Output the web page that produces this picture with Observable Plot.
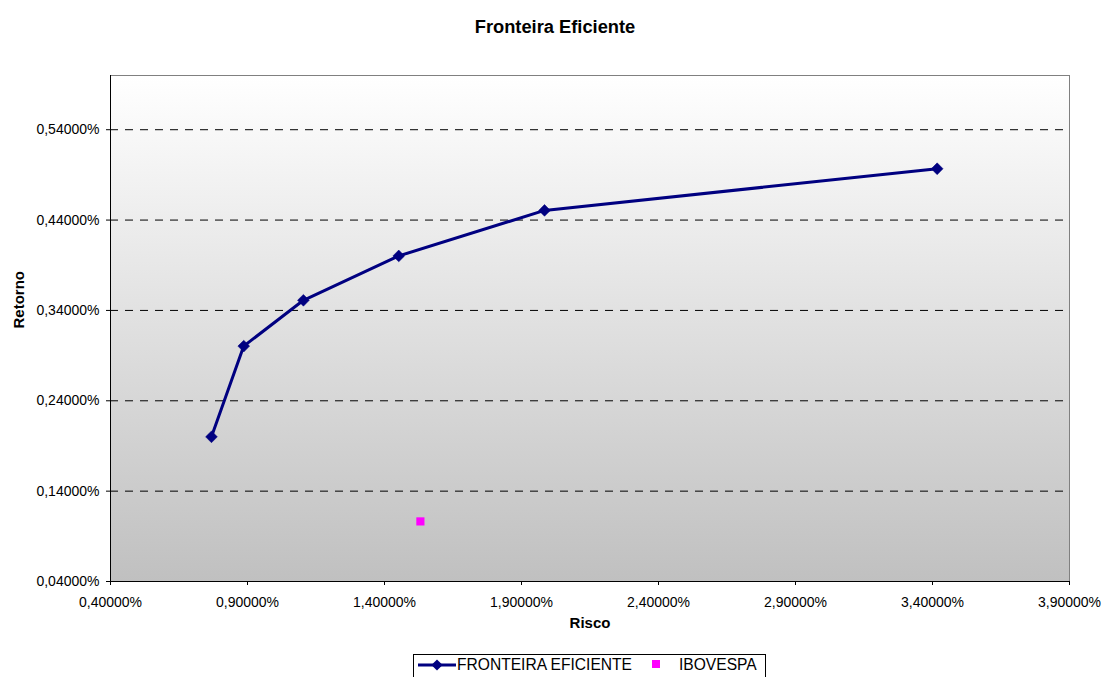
<!DOCTYPE html>
<html>
<head>
<meta charset="utf-8">
<script src="https://cdn.jsdelivr.net/npm/d3@7"></script>
<script src="https://cdn.jsdelivr.net/npm/@observablehq/plot@0.6"></script>
<style>
  body { margin: 0; background: #fff; font-family: Arial, "Liberation Sans", sans-serif; }
  #chart { position: relative; width: 1103px; height: 677px; overflow: hidden; }
  #legend { position: absolute; left: 413px; top: 654px; width: 351px; height: 26px;
            border: 1px solid #000; background: #fff; }
</style>
</head>
<body>
<div id="chart"></div>
<script>
// Efficient frontier: risk (std. dev., %) and return (%) for each portfolio
const frontierRisk   = [0.7685, 0.8863, 1.104, 1.452, 1.984, 3.417];
const frontierReturn = [0.2001, 0.3005, 0.3512, 0.4003, 0.4507, 0.4968];

// Market index
const ibovRisk   = [1.531];
const ibovReturn = [0.1065];

// Axis ticks (percent)
const xTicks = [0.4, 0.9, 1.4, 1.9, 2.4, 2.9, 3.4, 3.9];
const yTicks = [0.04, 0.14, 0.24, 0.34, 0.44, 0.54];

const seriesNames = ["FRONTEIRA EFICIENTE", "IBOVESPA"];
const seriesColors = ["#000080", "#ff00ff"];

const frontier = frontierRisk.map((r, i) => ({risk: r, ret: frontierReturn[i]}));
const ibov = ibovRisk.map((r, i) => ({risk: r, ret: ibovReturn[i]}));

// Brazilian-style percent label: 0,54000%
const pct = v => d3.format(".5f")(v).replace(".", ",") + "%";

const font = 'Arial, "Liberation Sans", sans-serif';

const chart = Plot.plot({
  width: 1103,
  height: 645,
  marginTop: 75,
  marginLeft: 110,
  marginRight: 34,
  marginBottom: 64,
  style: {fontFamily: font, fontSize: "14px", color: "#000", background: "transparent"},
  x: {domain: [0.4, 3.9]},
  y: {domain: [0.04, 0.60]},
  marks: [
    Plot.frame({fill: "url(#plotBg)", stroke: "#808080"}),
    Plot.gridY(yTicks, {stroke: "#000", strokeOpacity: 1, strokeDasharray: "8,7"}),
    Plot.ruleX([0.4], {stroke: "#000"}),
    Plot.ruleY([0.04], {stroke: "#000"}),
    Plot.axisX(xTicks, {tickSize: 4, tickPadding: 12, tickFormat: pct, label: null, fontSize: 14}),
    Plot.axisY(yTicks, {tickSize: 4, tickPadding: 7, tickFormat: pct, label: null, fontSize: 14}),
    Plot.line(frontier, {x: "risk", y: "ret", stroke: seriesColors[0], strokeWidth: 3}),
    Plot.dot(frontier, {x: "risk", y: "ret", symbol: "diamond2", r: 5.3, fill: seriesColors[0], stroke: seriesColors[0], strokeWidth: 0.5}),
    Plot.dot(ibov, {x: "risk", y: "ret", symbol: "square", r: 4.6, fill: seriesColors[1]}),
    Plot.text(["Fronteira Eficiente"], {frameAnchor: "top", dy: -56, dx: -35, fontWeight: "bold", fontSize: 18.3}),
    Plot.text(["Risco"], {frameAnchor: "bottom", dy: 46, fontWeight: "bold", fontSize: 15}),
    Plot.text(["Retorno"], {frameAnchor: "left", dx: -91, rotate: -90, fontWeight: "bold", fontSize: 15})
  ]
});

// Vertical white-to-grey background gradient for the plotting area
const defs = d3.select(chart).insert("defs", ":first-child");
const grad = defs.append("linearGradient")
  .attr("id", "plotBg").attr("x1", 0).attr("y1", 0).attr("x2", 0).attr("y2", 1);
grad.append("stop").attr("offset", "0%").attr("stop-color", "#ffffff");
grad.append("stop").attr("offset", "100%").attr("stop-color", "#c0c0c0");

const container = document.getElementById("chart");
container.appendChild(chart);

// Legend box below the chart
const legend = d3.select(container).append("div").attr("id", "legend");
const lsvg = legend.append("svg").attr("width", 351).attr("height", 26)
  .style("font-family", font).style("font-size", "15.6px");
lsvg.append("line").attr("x1", 4).attr("x2", 42).attr("y1", 10).attr("y2", 10)
  .attr("stroke", seriesColors[0]).attr("stroke-width", 3);
lsvg.append("path").attr("d", d3.symbol(d3.symbolDiamond2, 80)())
  .attr("transform", "translate(23,10)").attr("fill", seriesColors[0]);
lsvg.append("text").attr("x", 43).attr("y", 15).text(seriesNames[0]);
lsvg.append("rect").attr("x", 238).attr("y", 5).attr("width", 8).attr("height", 8)
  .attr("fill", seriesColors[1]);
lsvg.append("text").attr("x", 265).attr("y", 15).text(seriesNames[1]);
</script>
</body>
</html>
